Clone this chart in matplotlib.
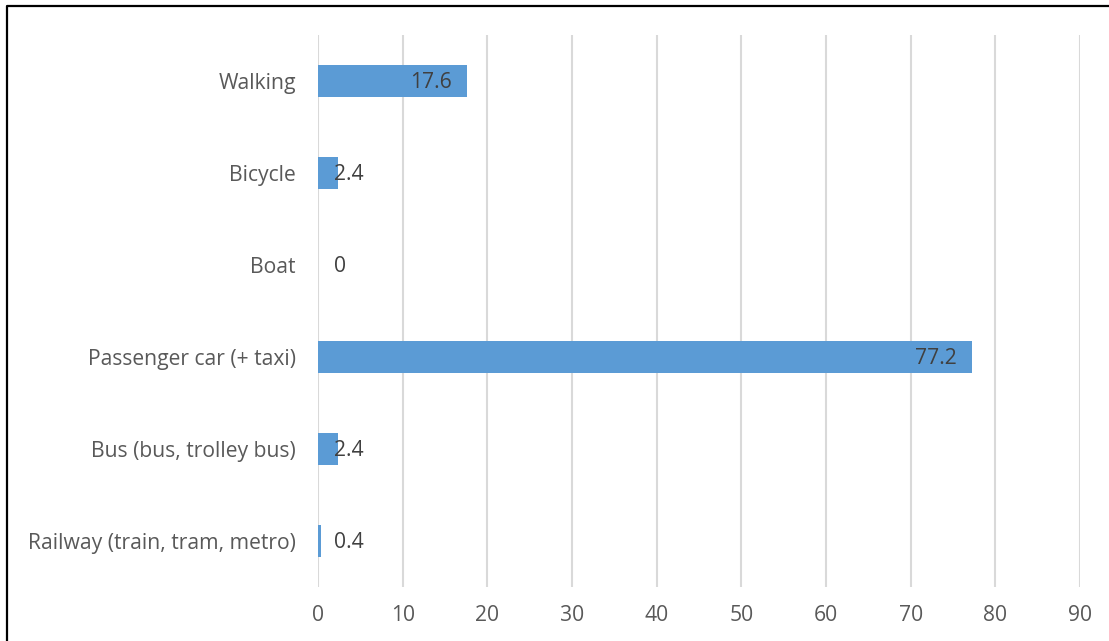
import matplotlib as mpl
mpl.use("Agg")
import matplotlib.pyplot as plt
from matplotlib.lines import Line2D

plt.rcParams['font.family'] = ['Open Sans', 'DejaVu Sans']

modes = ["Railway (train, tram, metro)", "Bus (bus, trolley bus)",
         "Passenger car (+ taxi)", "Boat", "Bicycle", "Walking"]
share = [0.4, 2.4, 77.2, 0, 2.4, 17.6]
xticks = [0, 10, 20, 30, 40, 50, 60, 70, 80, 90]

fs = 15.2

fig = plt.figure(figsize=(11.09, 6.41), dpi=100)
ax = fig.add_axes([0.2868, 0.0842, 0.687, 0.8612])

pos = range(len(modes))
ax.barh(pos, share, height=0.35, color="#5b9bd5", zorder=3)

for y, v in zip(pos, share):
    if v >= 10:
        ax.annotate(f"{v:g}", (v, y), xytext=(-11, -1), textcoords="offset points",
                    ha="right", va="center", fontsize=fs, color="#404040", zorder=4)
    else:
        ax.annotate(f"{v:g}", (0, y), xytext=(11.5, -1), textcoords="offset points",
                    ha="left", va="center", fontsize=fs, color="#404040", zorder=4)

ax.set_xlim(0, 90)
ax.set_ylim(-0.5, len(modes) - 0.5)
ax.set_xticks(xticks)
ax.set_yticks(list(pos))
ax.set_yticklabels(modes)
ax.tick_params(axis="both", length=0, labelsize=fs, labelcolor="#595959")
ax.tick_params(axis="x", pad=13)
ax.tick_params(axis="y", pad=16)
ax.grid(axis="x", color="#d9d9d9", linewidth=1.5, zorder=0)
for s in ax.spines.values():
    s.set_visible(False)

# frame on left and top edges
fig.add_artist(Line2D([6.5 / 1109, 6.5 / 1109, 1], [0, 1 - 5.5 / 641, 1 - 5.5 / 641],
                      transform=fig.transFigure, color="black", linewidth=1.6))

fig.savefig("out.png", dpi=100)
